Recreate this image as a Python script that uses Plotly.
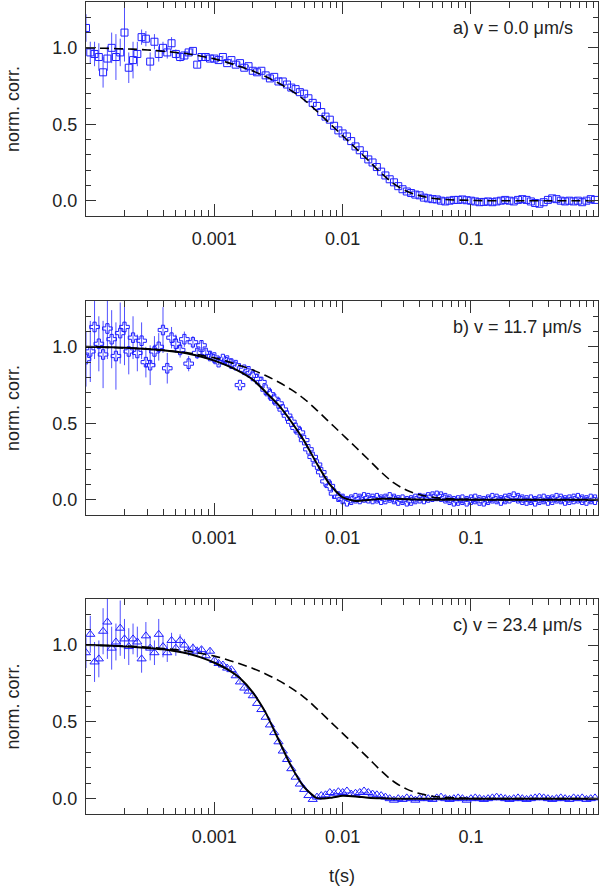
"""
plot.py - normalized FCS correlation curves at three flow speeds.

Three stacked panels share the same lag-time axis (log scale). Each panel
shows the measured correlation with error bars, the pure-diffusion fit
(dashed) and, for panels with flow, the diffusion + flow fit (solid).
"""

import plotly.graph_objects as go
from plotly.subplots import make_subplots

# --- data ------------------------------------------------------------------

# correlator lag times (s)
lag_time = [
    1.000e-4, 1.080e-4, 1.166e-4, 1.259e-4, 1.359e-4, 1.468e-4, 1.585e-4, 1.711e-4, 1.848e-4, 1.995e-4,
    2.154e-4, 2.326e-4, 2.512e-4, 2.712e-4, 2.929e-4, 3.162e-4, 3.415e-4, 3.687e-4, 3.981e-4, 4.299e-4,
    4.642e-4, 5.012e-4, 5.412e-4, 5.843e-4, 6.310e-4, 6.813e-4, 7.356e-4, 7.943e-4, 8.577e-4, 9.261e-4,
    1.000e-3, 1.080e-3, 1.166e-3, 1.259e-3, 1.359e-3, 1.468e-3, 1.585e-3, 1.711e-3, 1.848e-3, 1.995e-3,
    2.154e-3, 2.326e-3, 2.512e-3, 2.712e-3, 2.929e-3, 3.162e-3, 3.415e-3, 3.687e-3, 3.981e-3, 4.299e-3,
    4.642e-3, 5.012e-3, 5.412e-3, 5.843e-3, 6.310e-3, 6.813e-3, 7.356e-3, 7.943e-3, 8.577e-3, 9.261e-3,
    1.000e-2, 1.080e-2, 1.166e-2, 1.259e-2, 1.359e-2, 1.468e-2, 1.585e-2, 1.711e-2, 1.848e-2, 1.995e-2,
    2.154e-2, 2.326e-2, 2.512e-2, 2.712e-2, 2.929e-2, 3.162e-2, 3.415e-2, 3.687e-2, 3.981e-2, 4.299e-2,
    4.642e-2, 5.012e-2, 5.412e-2, 5.843e-2, 6.310e-2, 6.813e-2, 7.356e-2, 7.943e-2, 8.577e-2, 9.261e-2,
    1.000e-1, 1.080e-1, 1.166e-1, 1.259e-1, 1.359e-1, 1.468e-1, 1.585e-1, 1.711e-1, 1.848e-1, 1.995e-1,
    2.154e-1, 2.326e-1, 2.512e-1, 2.712e-1, 2.929e-1, 3.162e-1, 3.415e-1, 3.687e-1, 3.981e-1, 4.299e-1,
    4.642e-1, 5.012e-1, 5.412e-1, 5.843e-1, 6.310e-1, 6.813e-1, 7.356e-1, 7.943e-1, 8.577e-1, 9.261e-1,
]

# panel a) v = 0.0 um/s
corr_a = [
    1.13, 0.97, 0.96, 0.94, 0.84, 0.93, 1.00, 0.94, 0.97, 1.10,
    0.87, 0.92, 0.96, 1.07, 1.06, 0.91, 1.04, 0.96, 1.00, 0.97,
    1.03, 0.96, 0.94, 0.95, 0.97, 0.98, 0.89, 0.94, 0.94, 0.93,
    0.93, 0.92, 0.94, 0.90, 0.92, 0.89, 0.90, 0.87, 0.88, 0.85,
    0.84, 0.85, 0.82, 0.80, 0.81, 0.78, 0.78, 0.76, 0.74, 0.73,
    0.71, 0.70, 0.67, 0.64, 0.62, 0.58, 0.55, 0.53, 0.49, 0.46,
    0.44, 0.42, 0.39, 0.355, 0.33, 0.30, 0.27, 0.25, 0.22, 0.19,
    0.165, 0.14, 0.12, 0.095, 0.075, 0.06, 0.05, 0.04, 0.035, 0.02,
    0.015, 0.01, 0.008, 0.0, -0.005, 0.0, 0.005, 0.005, 0.008, 0.003,
    0.0, -0.005, -0.01, -0.008, -0.005, -0.01, -0.005, 0.0, 0.005, 0.0,
    -0.005, 0.005, 0.01, 0.005, -0.005, -0.015, -0.02, -0.01, 0.005, 0.015,
    0.01, 0.0, -0.005, 0.0, -0.005, 0.0, -0.01, 0.0, 0.01, 0.005,
]
# error bars only matter at short lags; later ones hide behind the markers
err_a = [
    0.09, 0.07, 0.08, 0.09, 0.10, 0.08, 0.10, 0.15, 0.09, 0.19,
    0.10, 0.12, 0.08, 0.05, 0.05, 0.06, 0.05, 0.05, 0.04, 0.04,
    0.04, 0.03, 0.03, 0.03, 0.02, 0.02, 0.02, 0.02, 0.015, 0.015,
    0.012, 0.012, 0.01, 0.01, 0.01, 0.01, 0.01, 0.008, 0.008, 0.008,
]

# panel b) v = 11.7 um/s
corr_b = [
    0.92, 0.97, 1.13, 1.02, 0.95, 1.12, 1.05, 0.94, 1.09, 1.13,
    0.97, 1.06, 0.96, 1.04, 0.90, 0.88, 0.97, 1.00, 1.11, 0.86,
    1.06, 1.02, 0.98, 1.05, 0.89, 1.03, 0.96, 1.01, 0.96, 0.94,
    0.93, 0.90, 0.92, 0.91, 0.89, 0.88, 0.75, 0.85, 0.84, 0.81,
    0.79, 0.77, 0.72, 0.69, 0.66, 0.63, 0.59, 0.55, 0.51, 0.47,
    0.44, 0.39, 0.33, 0.28, 0.23, 0.18, 0.12, 0.09, 0.04, 0.02,
    0.005, -0.01, 0.0, 0.01, 0.005, 0.015, 0.01, 0.005, 0.01, 0.0,
    0.005, 0.015, 0.005, -0.005, 0.0, -0.01, -0.005, 0.005, 0.01, 0.005,
    0.015, 0.02, 0.025, 0.02, 0.01, 0.0, -0.01, -0.005, 0.0, -0.01,
    0.0, 0.005, -0.005, -0.01, 0.0, 0.01, 0.005, -0.005, 0.005, 0.01,
    0.02, 0.01, 0.0, -0.005, 0.0, -0.01, 0.0, 0.005, -0.005, 0.0,
    0.01, 0.005, -0.005, 0.0, 0.005, 0.01, 0.0, -0.005, 0.005, 0.0,
]
err_b = [
    0.18, 0.20, 0.21, 0.18, 0.22, 0.20, 0.19, 0.22, 0.20, 0.25,
    0.15, 0.14, 0.12, 0.12, 0.10, 0.13, 0.10, 0.09, 0.15, 0.10,
    0.07, 0.06, 0.05, 0.05, 0.05, 0.04, 0.04, 0.03, 0.03, 0.025,
    0.02, 0.02, 0.015, 0.015, 0.012, 0.012, 0.01, 0.01, 0.01, 0.008,
]

# panel c) v = 23.4 um/s
corr_c = [
    0.95, 1.07, 0.89, 0.91, 1.09, 1.15, 0.98, 1.02, 1.11, 1.04,
    0.99, 1.04, 1.02, 0.91, 1.06, 0.98, 0.95, 1.07, 0.99, 0.95,
    1.03, 0.98, 1.03, 1.00, 0.96, 0.98, 0.96, 0.97, 0.93, 0.96,
    0.90, 0.88, 0.87, 0.85, 0.84, 0.80, 0.76, 0.72, 0.70, 0.67,
    0.62, 0.58, 0.53, 0.48, 0.43, 0.37, 0.31, 0.255, 0.195, 0.14,
    0.095, 0.06, 0.02, -0.005, 0.01, 0.02, 0.025, 0.04, 0.035, 0.045,
    0.04, 0.05, 0.03, 0.035, 0.04, 0.05, 0.04, 0.03, 0.025, 0.02,
    0.01, 0.0, -0.01, 0.0, -0.005, 0.005, 0.0, -0.01, 0.0, 0.005,
    0.0, -0.005, 0.005, 0.01, 0.0, -0.005, 0.0, 0.005, 0.0, -0.01,
    0.0, 0.005, 0.0, -0.005, 0.0, 0.005, 0.01, 0.005, 0.0, -0.005,
    0.0, 0.005, 0.0, -0.005, 0.0, 0.005, 0.01, 0.005, 0.0, -0.005,
    0.0, 0.005, 0.0, -0.005, 0.005, 0.0, 0.005, -0.005, 0.0, 0.005,
]
err_c = [
    0.10, 0.12, 0.13, 0.12, 0.15, 0.24, 0.14, 0.12, 0.18, 0.13,
    0.12, 0.10, 0.10, 0.09, 0.09, 0.08, 0.08, 0.10, 0.07, 0.06,
    0.05, 0.05, 0.04, 0.04, 0.03, 0.03, 0.03, 0.02, 0.02, 0.02,
    0.015, 0.015, 0.012, 0.012, 0.01, 0.01, 0.01, 0.008, 0.008, 0.008,
]

# fitted model curves, sampled at 10 points per decade
fit_time = [
    1.00e-4, 1.26e-4, 1.58e-4, 2.00e-4, 2.51e-4, 3.16e-4, 3.98e-4, 5.01e-4, 6.31e-4, 7.94e-4,
    1.00e-3, 1.26e-3, 1.58e-3, 2.00e-3, 2.51e-3, 3.16e-3, 3.98e-3, 5.01e-3, 6.31e-3, 7.94e-3,
    1.00e-2, 1.26e-2, 1.58e-2, 2.00e-2, 2.51e-2, 3.16e-2, 3.98e-2, 5.01e-2, 6.31e-2, 7.94e-2,
    1.00e-1, 1.26e-1, 1.58e-1, 2.00e-1, 2.51e-1, 3.16e-1, 3.98e-1, 5.01e-1, 6.31e-1, 7.94e-1,
    1.00e0,
]
fit_diffusion = [
    1.000, 0.998, 0.996, 0.993, 0.990, 0.985, 0.978, 0.970, 0.960, 0.945,
    0.928, 0.905, 0.878, 0.848, 0.812, 0.770, 0.720, 0.660, 0.585, 0.505,
    0.425, 0.345, 0.265, 0.180, 0.110, 0.062, 0.033, 0.016, 0.008, 0.004,
    0.002, 0.0, 0.0, 0.0, 0.0, 0.0, 0.0, 0.0, 0.0, 0.0,
    0.0,
]
fit_flow_b = [
    1.000, 0.999, 0.997, 0.994, 0.990, 0.985, 0.978, 0.968, 0.955, 0.935,
    0.910, 0.877, 0.838, 0.785, 0.705, 0.620, 0.510, 0.385, 0.235, 0.100,
    0.015, -0.008, -0.002, 0.006, 0.006, 0.003, 0.001, 0.0, 0.0, 0.0,
    0.0, 0.0, 0.0, 0.0, 0.0, 0.0, 0.0, 0.0, 0.0, 0.0,
    0.0,
]
fit_flow_c = [
    1.000, 0.998, 0.995, 0.991, 0.986, 0.980, 0.972, 0.960, 0.943, 0.918,
    0.885, 0.843, 0.785, 0.690, 0.560, 0.385, 0.210, 0.075, 0.003, 0.005,
    0.018, 0.014, 0.006, 0.002, 0.0, 0.0, 0.0, 0.0, 0.0, 0.0,
    0.0, 0.0, 0.0, 0.0, 0.0, 0.0, 0.0, 0.0, 0.0, 0.0,
    0.0,
]

panel_labels = ["a) v = 0.0 μm/s", "b) v = 11.7 μm/s", "c) v = 23.4 μm/s"]
panel_symbols = ["square-open", "cross-open", "triangle-up-open"]
x_tick_vals = [0.001, 0.01, 0.1]
x_tick_text = ["0.001", "0.01", "0.1"]
x_minor_vals = [m * 10.0 ** e for e in (-4, -3, -2, -1) for m in range(2, 10)]

# --- style -----------------------------------------------------------------

FONT = "Liberation Sans, Arial, Helvetica, sans-serif"
INK = "#222222"
AXIS = "#333333"
MARKER_BLUE = "#1f1fff"
ERROR_BLUE = "#5050ff"

panels = [
    (corr_a, err_a, None),
    (corr_b, err_b, fit_flow_b),
    (corr_c, err_c, fit_flow_c),
]
# vertical position of each panel, in paper fraction of the plot area
domains = [[0.7365, 1.0], [0.3682, 0.6318], [0.0, 0.2648]]

fig = make_subplots(rows=3, cols=1)

for row, (corr, err, flow_fit) in enumerate(panels, start=1):
    fig.add_trace(
        go.Scatter(
            x=lag_time,
            y=corr,
            mode="markers",
            marker=dict(
                symbol=panel_symbols[row - 1],
                size=8 if row > 1 else 7,
                color=MARKER_BLUE,
                line=dict(width=1),
            ),
            error_y=dict(
                type="data", array=err, color=ERROR_BLUE, thickness=1, width=0
            ),
            showlegend=False,
        ),
        row=row,
        col=1,
    )
    # free-diffusion model (dashed) in every panel
    fig.add_trace(
        go.Scatter(
            x=fit_time,
            y=fit_diffusion,
            mode="lines",
            line=dict(color="black", width=1.6, dash="9px,5px", shape="spline"),
            showlegend=False,
        ),
        row=row,
        col=1,
    )
    if flow_fit is not None:
        fig.add_trace(
            go.Scatter(
                x=fit_time,
                y=flow_fit,
                mode="lines",
                line=dict(color="black", width=2, shape="spline", smoothing=0.6),
                showlegend=False,
            ),
            row=row,
            col=1,
        )

    fig.add_annotation(
        text=panel_labels[row - 1],
        xref="x domain" if row == 1 else f"x{row} domain",
        yref="y domain" if row == 1 else f"y{row} domain",
        x=0.712,
        y=0.88,
        xanchor="left",
        yanchor="middle",
        showarrow=False,
        font=dict(family=FONT, size=18, color=INK),
    )

    fig.update_xaxes(
        type="log",
        range=[-4, -0.01],
        tickmode="array",
        tickvals=x_tick_vals,
        ticktext=x_tick_text,
        ticks="inside",
        ticklen=12,
        tickwidth=1,
        tickcolor=AXIS,
        minor=dict(
            tickmode="array",
            tickvals=x_minor_vals,
            ticks="inside",
            ticklen=6,
            tickwidth=1,
            tickcolor=AXIS,
            showgrid=False,
        ),
        ticklabelstandoff=6,
        showline=True,
        linecolor=AXIS,
        linewidth=1,
        mirror="ticks",
        showgrid=False,
        zeroline=False,
        automargin=False,
        tickfont=dict(family=FONT, size=18, color=INK),
        row=row,
        col=1,
    )
    fig.update_yaxes(
        domain=domains[row - 1],
        range=[-0.1, 1.3],
        tick0=0,
        dtick=0.5,
        tickformat=".1f",
        ticks="inside",
        ticklen=10,
        tickwidth=1,
        tickcolor=AXIS,
        minor=dict(
            tick0=0,
            dtick=0.1,
            ticks="inside",
            ticklen=5,
            tickwidth=1,
            tickcolor=AXIS,
            showgrid=False,
        ),
        ticklabelstandoff=4,
        showline=True,
        linecolor=AXIS,
        linewidth=1,
        mirror="ticks",
        showgrid=False,
        zeroline=False,
        automargin=False,
        tickfont=dict(family=FONT, size=18, color=INK),
        title=dict(
            text="norm. corr.",
            font=dict(family=FONT, size=18, color=INK),
            standoff=28,
        ),
        row=row,
        col=1,
    )

fig.update_xaxes(
    title=dict(
        text="t(s)", font=dict(family=FONT, size=18, color=INK), standoff=23
    ),
    row=3,
    col=1,
)

fig.update_layout(
    width=602,
    height=886,
    margin=dict(l=86, r=4, t=2, b=72, autoexpand=False),
    plot_bgcolor="white",
    paper_bgcolor="white",
    font=dict(family=FONT, size=18, color=INK),
    showlegend=False,
)

# the page's default body margin would shift the figure by 8px
fig.write_html(
    "out.html",
    config={"displayModeBar": False},
    post_script="document.body.style.margin = '0';",
)
